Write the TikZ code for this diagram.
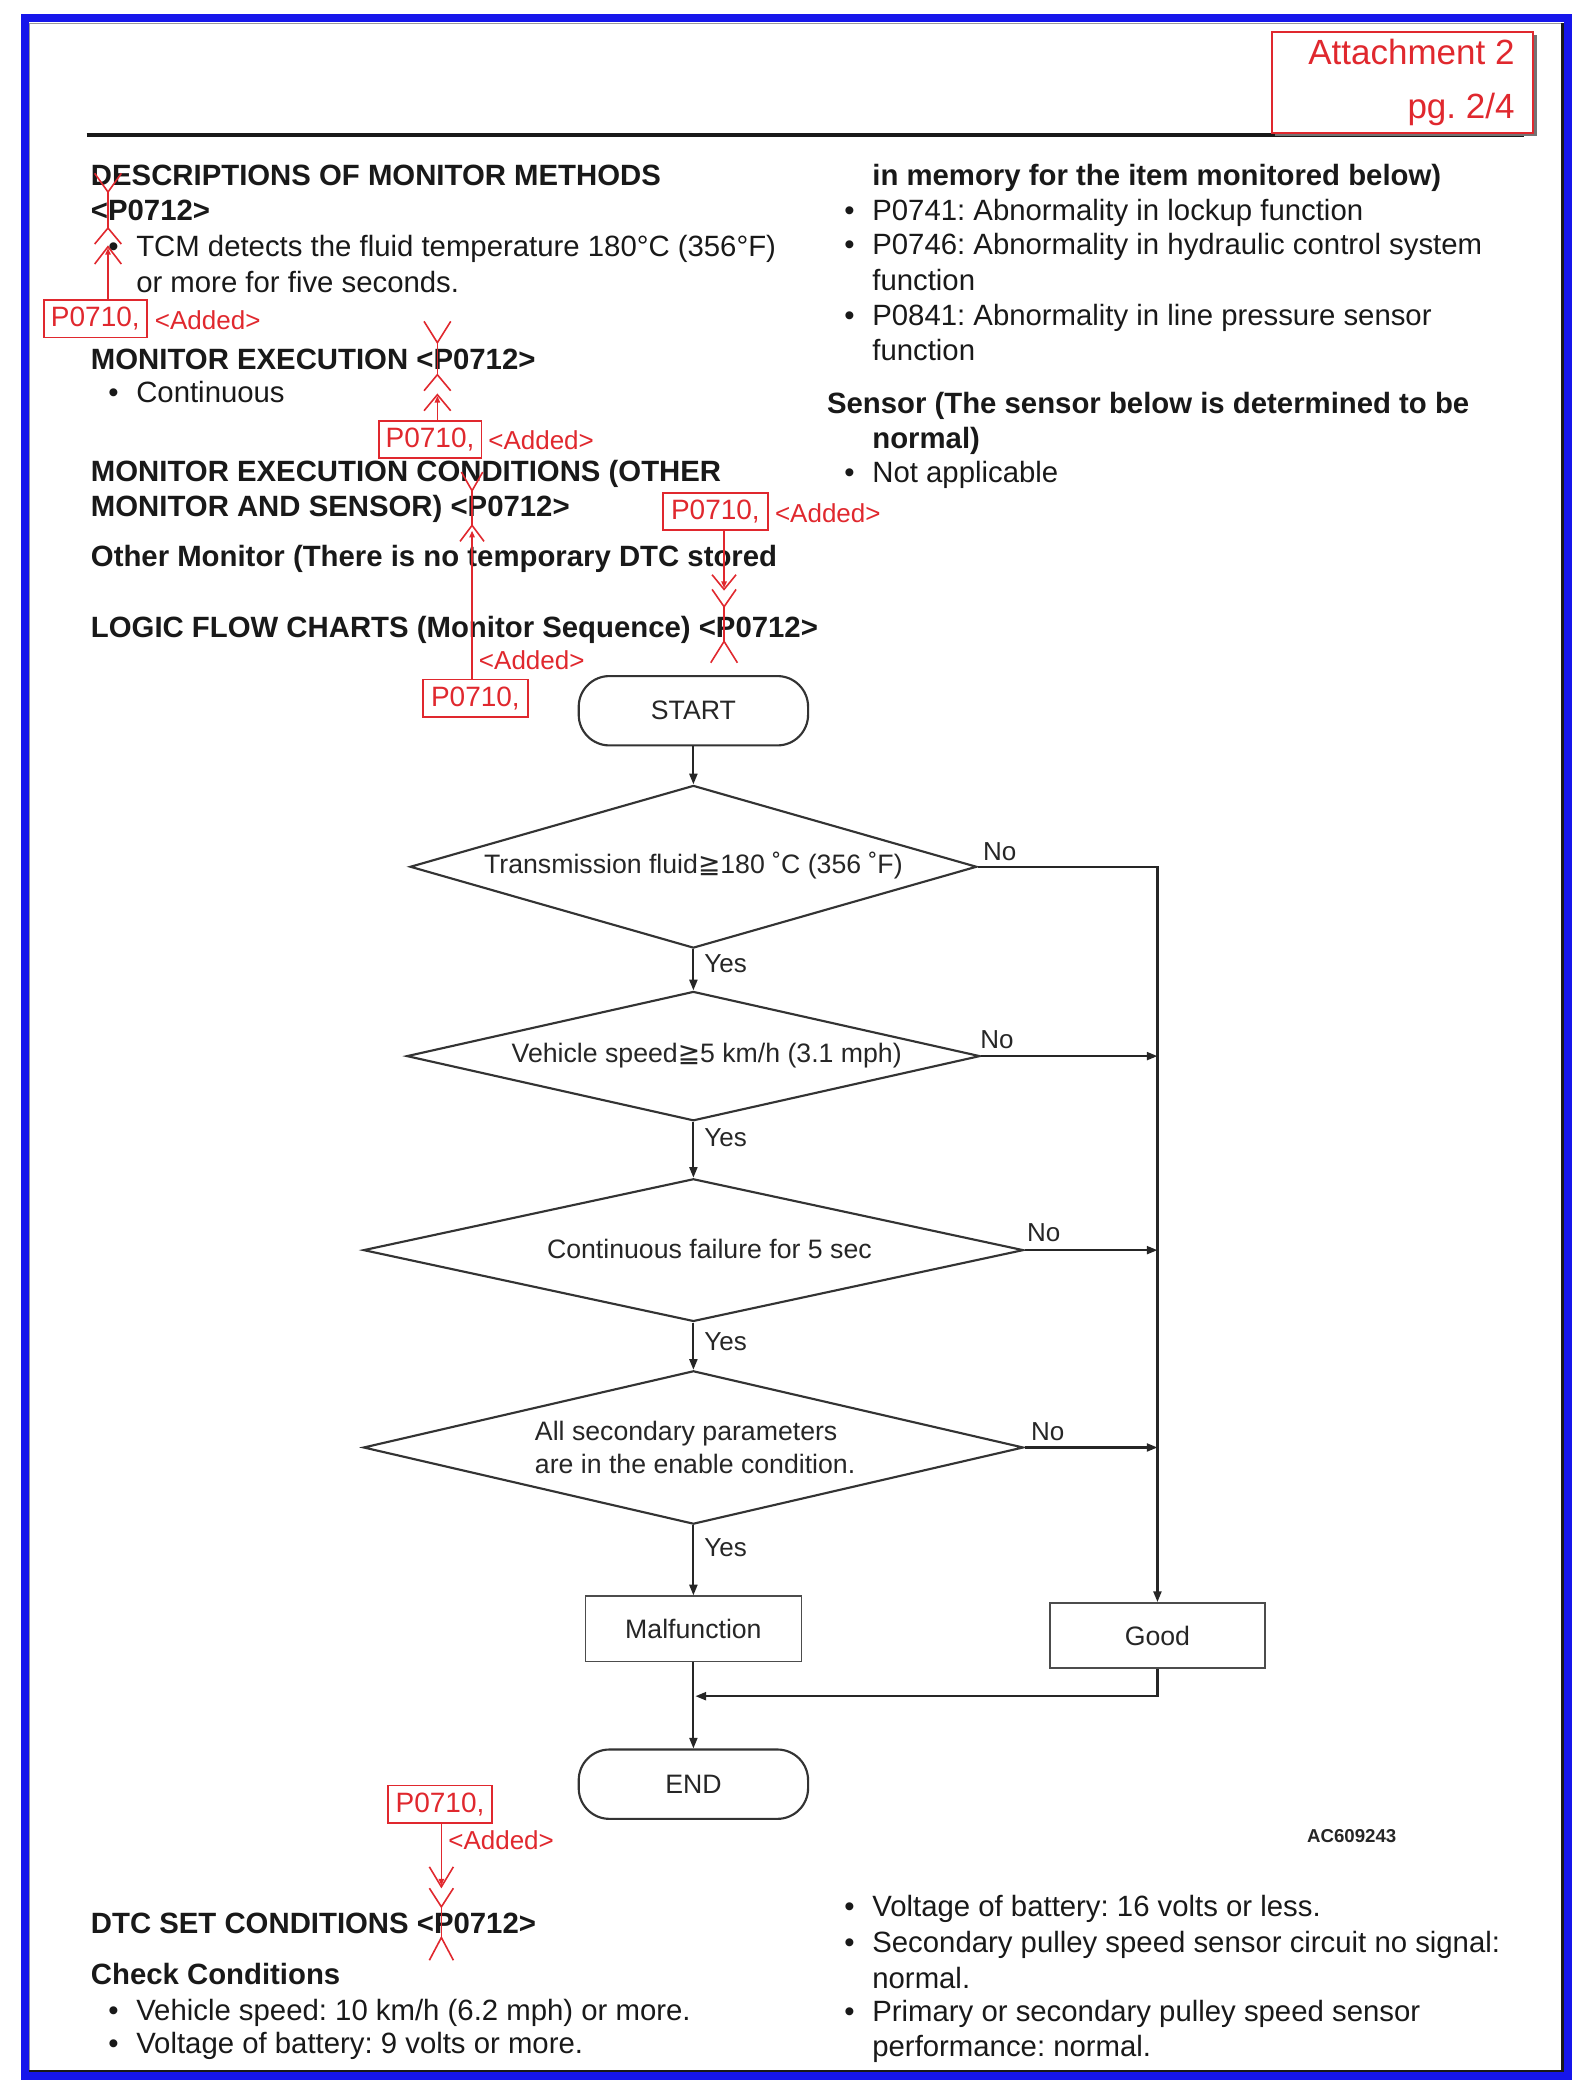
\documentclass[tikz,border=0pt]{standalone}
\usepackage{fontspec}
\setmainfont{Liberation Sans}
\newfontfamily\djv{DejaVu Sans}
\usetikzlibrary{shapes.geometric,arrows.meta}
\definecolor{redc}{RGB}{224,40,46}
\definecolor{bluec}{RGB}{22,22,235}
\frenchspacing
\begin{document}
\begin{tikzpicture}[x=1pt,y=-1pt,
  body/.style={anchor=base west,inner sep=0pt,font=\fontsize{22}{26}\selectfont,text=black!90},
  head/.style={body,font=\fontsize{22}{26}\selectfont\bfseries},
  fc/.style={line width=1.6pt,draw=black!80},
  dia/.style={fc,diamond,inner sep=0pt},
  term/.style={fc,rectangle,rounded corners=23pt,minimum width=172pt,minimum height=52pt,font=\fontsize{20}{24}\selectfont,text=black!85},
  boxx/.style={draw=black!70,line width=1.2pt,minimum width=162pt,minimum height=49pt,font=\fontsize{20}{24}\selectfont,text=black!85},
  ftxt/.style={inner sep=0pt,font=\fontsize{20}{24}\selectfont,text=black!85},
  lab/.style={anchor=base west,inner sep=0pt,font=\fontsize{19.5}{22}\selectfont,text=black!85},
  arr/.style={line width=1.6pt,draw=black!85,-{Triangle[length=8pt,width=6pt]}},
  redl/.style={draw=redc,line width=1.2pt},
  redarr/.style={redl,-{Triangle[length=5pt,width=4pt]}},
  rbox/.style={draw=redc,line width=1.3pt,inner sep=0pt,minimum height=28pt,text=redc,font=\fontsize{21}{24}\selectfont},
  radd/.style={anchor=base west,inner sep=0pt,text=redc,font=\fontsize{19.5}{22}\selectfont},
]
\useasboundingbox (0,0) rectangle (1188.6,1571.1);
% page frame
\draw[bluec,line width=6pt] (18.5,13.5) rectangle (1175.5,1557);
\draw[black!40,line width=1pt] (22,17.5) rectangle (1171.5,1553);
\draw[black!90,line width=2pt] (1171.5,17.5) -- (1171.5,1553) -- (22,1553);
% header rule and attachment box
\draw[black!90,line width=3.2pt] (65,101) -- (1143,101);
\draw[black!55,line width=1.5pt] (956,101.5) -- (1151.5,101.5) -- (1151.5,26);
\node[draw=redc,line width=1.5pt,fill=white,minimum width=196pt,minimum height=76pt] (att) at (1052,62) {};
\node[anchor=base east,inner sep=0pt,text=redc,font=\fontsize{26.25}{30}\selectfont] (att1) at (1136,48.7) {Attachment 2};
\node[anchor=base east,inner sep=0pt,text=redc,font=\fontsize{26.25}{30}\selectfont] (att2) at (1136,88.5) {pg. 2/4};
% left column top
\node[head] (h1) at (68,139) {DESCRIPTIONS OF MONITOR METHODS};
\node[head] (h1b) at (68,165) {<P0712>};
\node[body] (bl1) at (81,192) {•};
\node[body] (t1) at (102,192) {TCM detects the fluid temperature 180°C (356°F)};
\node[body] (t1b) at (102,219) {or more for five seconds.};
\node[head] (h2) at (68,277) {MONITOR EXECUTION <P0712>};
\node[body] (bl2) at (81,302) {•};
\node[body] (t2) at (102,302) {Continuous};
\node[head] (h3) at (68,361) {MONITOR EXECUTION CONDITIONS (OTHER};
\node[head] (h3b) at (68,387) {MONITOR AND SENSOR) <P0712>};
\node[head] (h4) at (68,425) {Other Monitor (There is no temporary DTC stored};
\node[head] (h5) at (68,478) {LOGIC FLOW CHARTS (Monitor Sequence) <P0712>};
% right column top
\node[head] (r1) at (654,139) {in memory for the item monitored below)};
\node[body] (rb1) at (633,165) {•};
\node[body] (r2) at (654,165) {P0741: Abnormality in lockup function};
\node[body] (rb2) at (633,191) {•};
\node[body] (r3) at (654,191) {P0746: Abnormality in hydraulic control system};
\node[body] (r3b) at (654,217.5) {function};
\node[body] (rb3) at (633,244) {•};
\node[body] (r4) at (654,244) {P0841: Abnormality in line pressure sensor};
\node[body] (r4b) at (654,270) {function};
\node[head] (r5) at (620,310) {Sensor (The sensor below is determined to be};
\node[head] (r5b) at (654,336) {normal)};
\node[body] (rb4) at (633,362) {•};
\node[body] (r6) at (654,362) {Not applicable};
% bottom texts
\node[head] (h6) at (68,1450) {DTC SET CONDITIONS <P0712>};
\node[head] (h7) at (68,1488) {Check Conditions};
\node[body] (bb1) at (81,1515) {•};
\node[body] (c1) at (102,1515) {Vehicle speed: 10 km/h (6.2 mph) or more.};
\node[body] (bb2) at (81,1540) {•};
\node[body] (c2) at (102,1540) {Voltage of battery: 9 volts or more.};
\node[body] (bb3) at (633,1437) {•};
\node[body] (c3) at (654,1437) {Voltage of battery: 16 volts or less.};
\node[body] (bb4) at (633,1464) {•};
\node[body] (c4) at (654,1464) {Secondary pulley speed sensor circuit no signal:};
\node[body] (c4b) at (654,1491) {normal.};
\node[body] (bb5) at (633,1516) {•};
\node[body] (c5) at (654,1516) {Primary or secondary pulley speed sensor};
\node[body] (c5b) at (654,1542) {performance: normal.};
\node[anchor=base west,inner sep=0pt,font=\fontsize{14}{16}\selectfont\bfseries,text=black!85] (ac) at (980,1382) {AC609243};
% flowchart
\node[term] (start) at (520,533) {START};
\node[dia,minimum width=425pt,minimum height=122pt] (d1) at (520,650) {};
\node[ftxt,anchor=base] (d1t) at (520,655) {Transmission fluid{\djv ≧}180 ˚C (356 ˚F)};
\node[dia,minimum width=430pt,minimum height=97pt] (d2) at (520,792) {};
\node[ftxt,anchor=base] (d2t) at (530,797) {Vehicle speed{\djv ≧}5 km/h (3.1 mph)};
\node[dia,minimum width=495pt,minimum height=107pt] (d3) at (520,937.5) {};
\node[ftxt,anchor=base] (d3t) at (532,944) {Continuous failure for 5 sec};
\node[dia,minimum width=495pt,minimum height=115pt] (d4) at (520,1085.5) {};
\node[ftxt,anchor=base west] (d4t) at (401,1080) {All secondary parameters};
\node[ftxt,anchor=base west] (d4tb) at (401,1105) {are in the enable condition.};
\node[boxx] (mal) at (520,1221.5) {Malfunction};
\node[boxx,minimum width=161pt] (good) at (868,1226.5) {Good};
\node[term] (end) at (520,1338) {END};
\node[lab] (y1) at (528,729) {Yes};
\node[lab] (y2) at (528,860) {Yes};
\node[lab] (y3) at (528,1013) {Yes};
\node[lab] (y4) at (528,1167) {Yes};
\node[lab] (n1) at (737,645) {No};
\node[lab] (n2) at (735,786) {No};
\node[lab] (n3) at (770,931) {No};
\node[lab] (n4) at (773,1080) {No};
\draw[arr] (start.south) -- (d1.north);
\draw[arr] (d1.south) -- (d2.north);
\draw[arr] (d2.south) -- (d3.north);
\draw[arr] (d3.south) -- (d4.north);
\draw[arr] (d4.south) -- (mal.north);
\draw[arr] (d1.east) -| (good.north);
\draw[arr] (d2.east) -- (d2.east -| good.north);
\draw[arr] (d3.east) -- (d3.east -| good.north);
\draw[arr] (d4.east) -- (d4.east -| good.north);
\coordinate (mg) at (521.5,1272);
\draw[arr] (good.south) |- (mg);
\draw[arr] (mal.south) -- (end.north);
% red annotation A1
\node[rbox,minimum width=77pt] (p1) at (71.5,239) {P0710,};
\node[radd] (ad1) at (116,247) {<Added>};
\coordinate (a1) at (81,186);
\draw[redarr] (p1.north -| a1) -- (a1);
\draw[redl] (71,130) -- (81,144) -- (91,130);
\draw[redl] (81,144) -- (81,171);
\draw[redl] (71,183) -- (81,171) -- (91,183);
\draw[redl] (71,198) -- (81,185) -- (91,198);
% A2
\node[rbox,minimum width=77pt] (p2) at (322.5,329.5) {P0710,};
\node[radd] (ad2) at (366,337) {<Added>};
\coordinate (a2) at (328,297);
\draw[redarr] (p2.north -| a2) -- (a2);
\draw[redl] (318,241) -- (328,257) -- (338,241);
\draw[redl] (328,257) -- (328,281);
\draw[redl] (318,293) -- (328,281) -- (338,293);
\draw[redl] (318,308) -- (328,296) -- (338,308);
% A3
\node[rbox,minimum width=79pt] (p3) at (356.5,523.5) {P0710,};
\node[radd] (ad3) at (359,502) {<Added>};
\coordinate (a3) at (354,398);
\draw[redarr] (p3.north -| a3) -- (a3);
\draw[redl] (346,354) -- (354,368) -- (362,354);
\draw[redl] (354,368) -- (354,394);
\draw[redl] (345,406) -- (354,394) -- (363,406);
% A4
\node[rbox,minimum width=79pt] (p4) at (536.5,383.5) {P0710,};
\node[radd] (ad4) at (581,392) {<Added>};
\coordinate (a4) at (543,441);
\draw[redarr] (p4.south -| a4) -- (a4);
\draw[redl] (534,431) -- (543,442) -- (552,431);
\draw[redl] (534,442) -- (543,455) -- (552,442);
\draw[redl] (543,455) -- (543,481);
\draw[redl] (533,497) -- (543,481) -- (553,497);
% A5
\node[rbox,minimum width=78pt] (p5) at (330,1353) {P0710,};
\node[radd] (ad5) at (336,1387) {<Added>};
\coordinate (a5) at (331,1414);
\draw[redarr] (p5.south -| a5) -- (a5);
\draw[redl] (322,1400) -- (331,1415) -- (340,1400);
\draw[redl] (322,1416) -- (331,1430) -- (340,1416);
\draw[redl] (331,1430) -- (331,1453);
\draw[redl] (322,1470) -- (331,1453) -- (340,1470);
\end{tikzpicture}
\end{document}
